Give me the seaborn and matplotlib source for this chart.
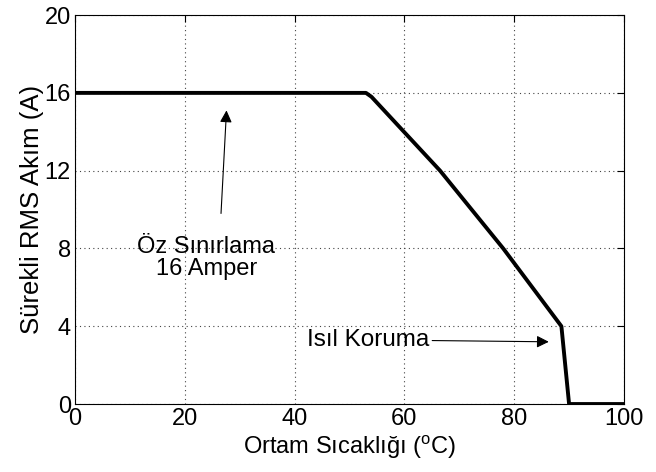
import pandas as pd
import matplotlib
matplotlib.use("Agg")
import matplotlib.pyplot as plt
import seaborn as sns


# derating curve
temperature = [0, 53, 54, 66.5, 78, 88.6, 90, 100]
current = [16, 16, 15.8, 12, 8, 4, 0, 0]

x_ticks = [0, 20, 40, 60, 80, 100]
y_ticks = [0, 4, 8, 12, 16, 20]


def main():

    sns.set_style("white")

    plt.rcParams["font.family"] = ["Liberation Sans", "DejaVu Sans"]
    plt.rcParams["mathtext.fontset"] = "custom"
    plt.rcParams["mathtext.rm"] = "Liberation Sans"
    plt.rcParams["text.color"] = "black"
    plt.rcParams["axes.labelcolor"] = "black"

    df = pd.DataFrame({"temp": temperature, "amp": current})

    fig = plt.figure(figsize=(6.56, 4.72), dpi=100)
    ax = fig.add_axes([0.1143, 0.144, 0.8369, 0.824])

    sns.lineplot(
        data=df,
        x="temp",
        y="amp",
        sort=False,
        estimator=None,
        color="black",
        linewidth=2.8,
        ax=ax
    )

    ax.set_xlim(0, 100)
    ax.set_ylim(0, 20)
    ax.set_xticks(x_ticks)
    ax.set_yticks(y_ticks)

    ax.grid(True, color="#444444", linestyle=(0, (1, 3)), linewidth=0.8)

    ax.tick_params(
        direction="in",
        length=5,
        labelsize=17,
        top=True,
        right=True,
        colors="black",
        pad=3
    )

    for s in ax.spines.values():
        s.set_color("black")
        s.set_linewidth(0.8)
        s.set_visible(True)

    ax.set_xlabel("Ortam Sıcaklığı ($^{\\mathrm{o}}$C)", fontsize=17, labelpad=2)
    ax.set_ylabel("Sürekli RMS Akım (A)", fontsize=18.5, labelpad=0)

    # self limiting label and its arrow
    ax.text(
        23.9, 7.5,
        "Öz Sınırlama\n16 Amper",
        fontsize=17,
        ha="center",
        va="center",
        multialignment="center",
        linespacing=1.0
    )
    ax.annotate(
        "",
        xy=(27.6, 15.1),
        xytext=(26.6, 9.8),
        arrowprops=dict(arrowstyle="-|>", color="black", lw=0.8,
                        mutation_scale=18, shrinkA=0, shrinkB=0)
    )

    # thermal protection label and its arrow
    ax.annotate(
        "Isıl Koruma",
        xy=(86.3, 3.2),
        xytext=(42.2, 3.3),
        fontsize=17.5,
        ha="left",
        va="center",
        arrowprops=dict(arrowstyle="-|>", color="black", lw=0.8,
                        mutation_scale=18, shrinkA=0, shrinkB=0)
    )

    fig.savefig("out.png", dpi=100)


if __name__ == "__main__":
    main()
